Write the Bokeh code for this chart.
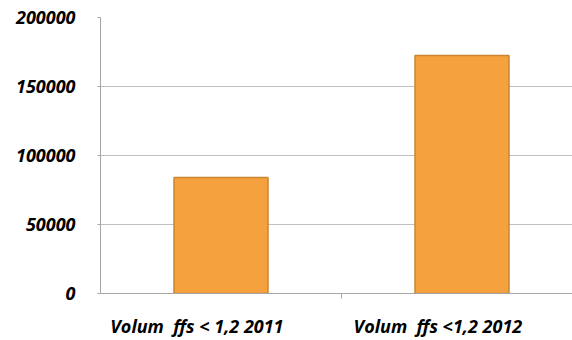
from bokeh.plotting import figure
from bokeh.models import Range1d, FixedTicker, BasicTickFormatter, ColumnDataSource
from bokeh.embed import file_html
from bokeh.resources import INLINE

categories = ["Volum\u00a0 ffs < 1,2 2011", "Volum\u00a0 ffs <1,2 2012"]
values = [84000, 172500]
y_ticks = [0, 50000, 100000, 150000, 200000]

n = len(categories)
xs = [i + 0.5 for i in range(n)]
label_pos = [x - 0.1 for x in xs]

p = figure(width=572, height=340, output_backend="svg", toolbar_location=None,
           x_range=Range1d(0, 472 / 241), y_range=Range1d(0, 200000),
           min_border_left=100, min_border_right=0, min_border_top=17, min_border_bottom=47)
p.outline_line_color = None
p.background_fill_color = "white"
p.border_fill_color = "white"

src = ColumnDataSource(dict(x=xs, top=values))
p.vbar(x="x", top="top", width=0.39, bottom=0, source=src,
       fill_color="#F5A23E", line_color="#C98530", line_width=1.5)

font = "Open Sans"

# y axis
p.yaxis.ticker = FixedTicker(ticks=y_ticks)
p.yaxis.formatter = BasicTickFormatter(use_scientific=False)
p.yaxis.axis_line_color = "#A6A6A6"
p.yaxis.major_tick_line_color = "#A6A6A6"
p.yaxis.major_tick_out = 3
p.yaxis.major_tick_in = 0
p.yaxis.minor_tick_line_color = None
p.yaxis.major_label_standoff = 22
p.yaxis.major_label_text_font = font
p.yaxis.major_label_text_font_style = "bold italic"
p.yaxis.major_label_text_font_size = "18px"
p.yaxis.major_label_text_color = "#000000"

# x axis
p.xaxis.ticker = FixedTicker(ticks=label_pos, minor_ticks=[1.0])
p.xaxis.major_label_overrides = {pos: c for pos, c in zip(label_pos, categories)}
p.xaxis.axis_line_color = "#A6A6A6"
p.xaxis.major_tick_line_color = None
p.xaxis.minor_tick_line_color = "#A6A6A6"
p.xaxis.minor_tick_out = 5
p.xaxis.minor_tick_in = 0
p.xaxis.major_label_standoff = 14
p.xaxis.major_label_text_font = font
p.xaxis.major_label_text_font_style = "bold italic"
p.xaxis.major_label_text_font_size = "18px"
p.xaxis.major_label_text_color = "#000000"

p.xgrid.grid_line_color = None
p.ygrid.ticker = FixedTicker(ticks=y_ticks)
p.ygrid.grid_line_color = "#BFBFBF"
p.ygrid.grid_line_width = 1

open("out.html", "w").write(file_html(p, INLINE))
